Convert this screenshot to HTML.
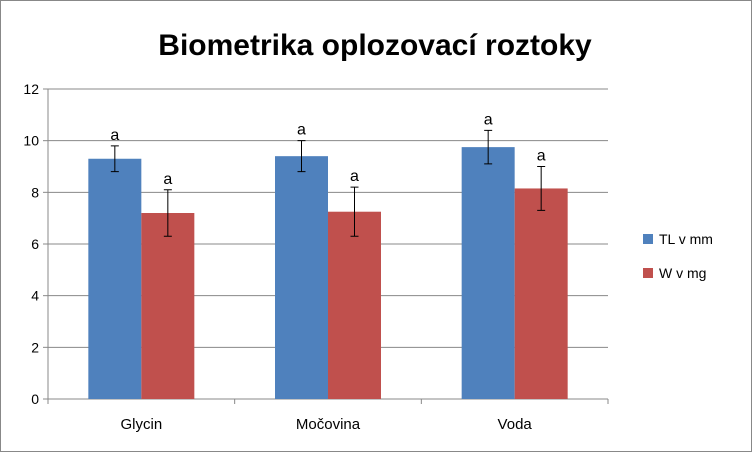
<!DOCTYPE html>
<html><head><meta charset="utf-8"><style>
body{margin:0;background:#fff}
svg{display:block;font-family:"Liberation Sans",sans-serif}
</style></head><body>
<svg id="chart" width="752" height="452">
<rect x="0.5" y="0.5" width="751" height="451" fill="#fff" stroke="#888"/>
<text x="375" y="55" text-anchor="middle" font-size="30" font-weight="bold">Biometrika oplozovací roztoky</text>
<g id="grid"></g><g id="bars"></g><g id="axes"></g>
<g>
<rect x="643" y="234" width="10" height="10" fill="#4f81bd"/>
<text x="659" y="244" font-size="14">TL v mm</text>
<rect x="643" y="268" width="10" height="10" fill="#c0504d"/>
<text x="659" y="278" font-size="14">W v mg</text>
</g>
</svg>
<script>
const categories=["Glycin","Močovina","Voda"];
const tlValues=[9.3,9.4,9.75];
const tlErrors=[0.5,0.6,0.65];
const wValues=[7.2,7.25,8.15];
const wErrors=[0.9,0.95,0.85];
const yTicks=[0,2,4,6,8,10,12];
const sigLabels=["a","a","a"];
const NS="http://www.w3.org/2000/svg";
const L=48,R=608,T=89,B=399,yMax=12;
const y=v=>B-(v/yMax)*(B-T);
const bw=(R-L)/categories.length;
function mk(tag,at,parent,txt){const e=document.createElementNS(NS,tag);for(const k in at)e.setAttribute(k,at[k]);if(txt!==undefined)e.textContent=txt;document.getElementById(parent).appendChild(e);return e;}
yTicks.forEach(t=>{
 const g=mk("line",{x1:L,x2:R,y1:y(t),y2:y(t),stroke:t===0?"#888":"#888","stroke-width":1},"grid");
 
 
 const tl=mk("text",{x:L-9,y:y(t)+5,"text-anchor":"end","font-size":14},"axes",t);
 
 
 const tk=mk("line",{x1:L-5,x2:L,y1:y(t),y2:y(t),stroke:"#888"},"axes");
 
 
});
const ax=mk("line",{x1:L,x2:L,y1:T,y2:B,stroke:"#888"},"axes");


for(let i=0;i<=categories.length;i++){
 const tk=mk("line",{x1:L+i*bw,x2:L+i*bw,y1:B,y2:B+5,stroke:"#888"},"axes");
 
 
}
const barW=53;
categories.forEach((c,i)=>{
 const cx=L+bw*(i+0.5);
 [[tlValues,tlErrors,"#4f81bd",cx-barW,"bar-tl"],[wValues,wErrors,"#c0504d",cx,"bar-w"]].forEach(([vals,errs,col,x0,nm])=>{
  const v=vals[i],e=errs[i];
  const r=mk("rect",{x:x0,y:y(v),width:barW,height:B-y(v),fill:col},"bars");
  
  
  const mx=x0+barW/2;
  const eb=mk("path",{d:`M${mx} ${y(v+e)}V${y(v-e)}M${mx-4} ${y(v+e)}H${mx+4}M${mx-4} ${y(v-e)}H${mx+4}`,stroke:"#000","stroke-width":1,fill:"none"},"bars");
  
  
  const s=mk("text",{x:mx,y:y(v+e)-6,"text-anchor":"middle","font-size":16},"bars",sigLabels[i]);
  
  
 });
 const xl=mk("text",{x:cx,y:B+30,"text-anchor":"middle","font-size":15},"axes",c);
 
 
});
</script>
</body></html>
